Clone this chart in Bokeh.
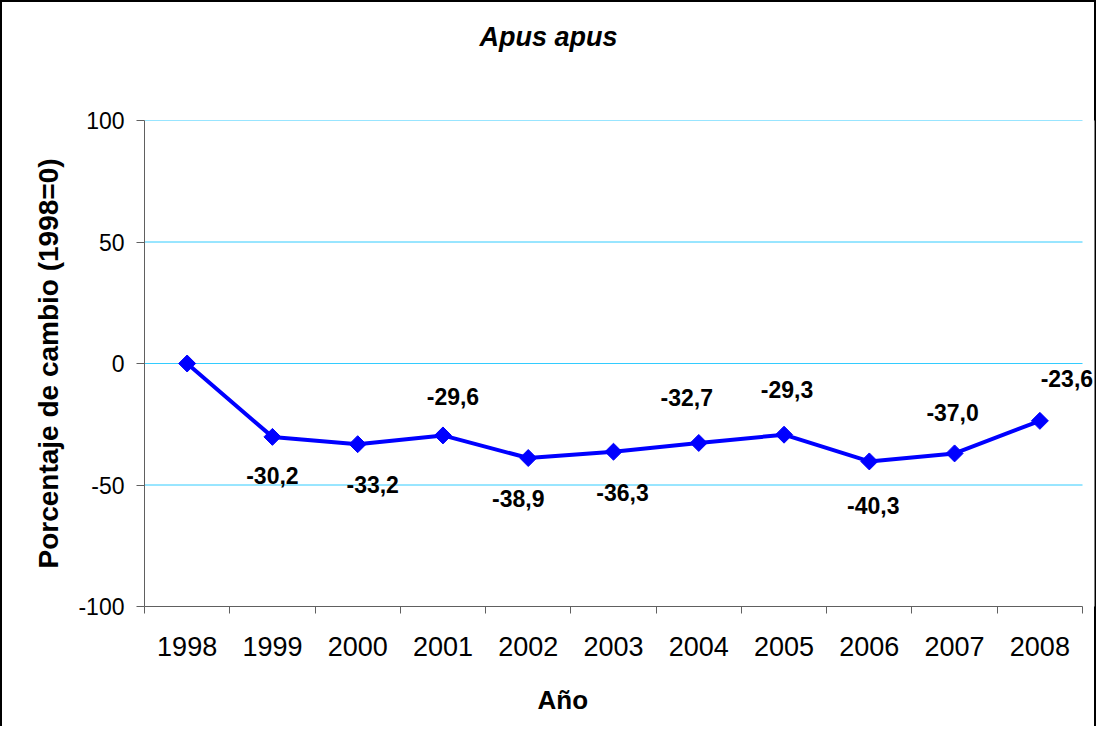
from bokeh.plotting import figure
from bokeh.models import (Range1d, FixedTicker, ColumnDataSource, LabelSet, Title)
from bokeh.core.properties import value
from bokeh.embed import file_html
from bokeh.resources import INLINE

# ---- data ----
years = [1998, 1999, 2000, 2001, 2002, 2003, 2004, 2005, 2006, 2007, 2008]
change = [0.0, -30.2, -33.2, -29.6, -38.9, -36.3, -32.7, -29.3, -40.3, -37.0, -23.6]
label_side = ["none", "below", "below", "above", "below", "below",
              "above", "above", "below", "above", "above"]
y_ticks = [-100, -50, 0, 50, 100]
y_tick_labels = ["-100", "-50", "0", "50", "100"]
grid_values = [-50, 0, 50, 100]

# label nudges in pixels (layout only)
label_dx = [0, 0, 15, 10, -10, 9, -12, 3, 4, -2, 27]
label_dy = [0, 39, 40, 39, 40, 41, 45, 45, 44, 41, 42]

FONT = "Liberation Sans"
AXIS_COL = "#606060"
GRID_COL = "#33CCFF"

x_lo, x_hi = years[0] - 0.5, years[-1] + 0.5
px_per_year = 938 / len(years)
x_end = x_hi + 12 / px_per_year   # room on the right for the last data label

p = figure(width=1096, height=726, title=None,
           x_range=Range1d(x_lo, x_end), y_range=Range1d(-100, 100),
           output_backend="svg", toolbar_location=None,
           min_border_left=144, min_border_right=2,
           min_border_top=120, min_border_bottom=120)
p.outline_line_color = None
p.background_fill_color = "white"
p.border_fill_color = None
p.styles = {"box-shadow": "inset 2px 2px 0 0 #000000, inset -2px 0 0 0 #000000"}

# title (a small spacer sits between the frame and the title)
p.add_layout(Title(text=" ", text_font_size="10px", standoff=51), "above")
p.add_layout(Title(text="Apus apus", align="left", offset=335, standoff=10,
                   text_font=FONT, text_font_size="27px",
                   text_font_style="bold italic", text_color="black"), "above")

# grid (horizontal lines spanning the category area only)
p.xgrid.visible = False
p.ygrid.visible = False
p.segment(x0=[x_lo] * len(grid_values), x1=[x_hi] * len(grid_values),
          y0=grid_values, y1=grid_values, line_color=GRID_COL, line_width=1)

# y axis
ya = p.yaxis[0]
ya.ticker = FixedTicker(ticks=y_ticks, minor_ticks=[])
ya.major_label_overrides = dict(zip(y_ticks, y_tick_labels))
ya.axis_line_color = AXIS_COL
ya.major_tick_line_color = AXIS_COL
ya.major_tick_out = 8
ya.major_tick_in = 0
ya.minor_tick_out = 0
ya.minor_tick_in = 0
ya.major_label_text_font = FONT
ya.major_label_text_font_size = "23px"
ya.major_label_text_color = "black"
ya.major_label_standoff = 12
ya.axis_label = "Porcentaje de cambio (1998=0)"
ya.axis_label_text_font = FONT
ya.axis_label_text_font_size = "28px"
ya.axis_label_text_font_style = "bold"
ya.axis_label_text_color = "black"
ya.axis_label_standoff = 11

# x axis: labels at years, ticks between categories
xa = p.xaxis[0]
xa.bounds = (x_lo, x_hi)
xa.ticker = FixedTicker(ticks=years, minor_ticks=[y - 0.5 for y in years] + [x_hi])
xa.major_label_overrides = {y: str(y) for y in years}
xa.axis_line_color = AXIS_COL
xa.major_tick_out = 0
xa.major_tick_in = 0
xa.minor_tick_line_color = AXIS_COL
xa.minor_tick_out = 7
xa.minor_tick_in = 0
xa.major_label_text_font = FONT
xa.major_label_text_font_size = "27px"
xa.major_label_text_color = "black"
xa.major_label_standoff = 23

# spacer then the x-axis title
p.add_layout(Title(text=" ", text_font_size="8px", standoff=3), "below")
p.add_layout(Title(text="Año", align="left", offset=393, standoff=21,
                   text_font=FONT, text_font_size="26px", text_font_style="bold",
                   text_color="black"), "below")

# series
p.line(years, change, line_color="#0000FF", line_width=4)
p.scatter(years, change, marker="square", angle=0.785398, size=12,
          fill_color="#0000FF", line_color="#0000FF")

# data labels
lx, ly, lt, ldx, ldy = [], [], [], [], []
for yr, v, side, dx, dy in zip(years, change, label_side, label_dx, label_dy):
    if side == "none":
        continue
    lx.append(yr)
    ly.append(v)
    lt.append(f"{v:.1f}".replace(".", ","))
    ldx.append(dx)
    ldy.append(dy if side == "above" else -dy)
src = ColumnDataSource(dict(x=lx, y=ly, text=lt, dx=ldx, dy=ldy))
p.add_layout(LabelSet(x="x", y="y", text="text", source=src,
                      x_offset="dx", y_offset="dy",
                      text_align="center", text_baseline="middle",
                      text_font=value(FONT), text_font_size=value("23px"),
                      text_font_style="bold", text_color="black"))

open("out.html", "w").write(file_html(p, INLINE))
